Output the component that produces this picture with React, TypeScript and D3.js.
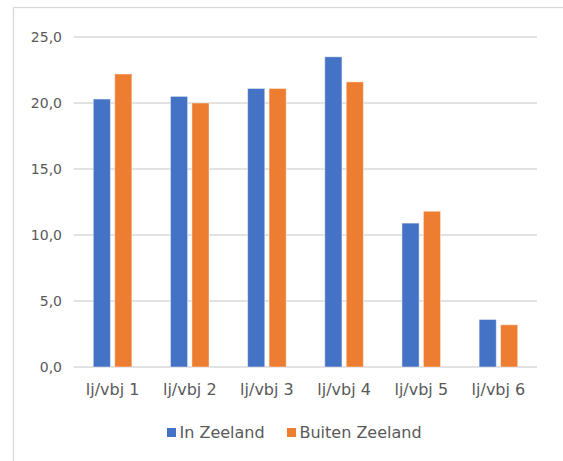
import React from 'react'
import * as d3 from 'd3'

const categories = ['lj/vbj 1', 'lj/vbj 2', 'lj/vbj 3', 'lj/vbj 4', 'lj/vbj 5', 'lj/vbj 6']
const seriesNames = ['In Zeeland', 'Buiten Zeeland']
const inZeeland = [20.3, 20.5, 21.1, 23.5, 10.9, 3.6]
const buitenZeeland = [22.2, 20.0, 21.1, 21.6, 11.8, 3.2]
const yTicks = [0, 5, 10, 15, 20, 25]
const colours = ['#4472C4', '#ED7D31']

const W = 563
const H = 461
const FONT = '"DejaVu Sans", Verdana, sans-serif'
const TEXT = '#595959'
const GRID = '#d9d9d9'

export default function App() {
  const x0 = d3.scaleBand<string>().domain(categories).range([74, 537]).paddingInner(0.5).paddingOuter(0.25)
  const x1 = d3.scaleBand<string>().domain(seriesNames).range([0, x0.bandwidth()]).paddingInner(0.2)
  const y = d3.scaleLinear().domain([0, 25]).range([367, 37])
  const fmt = (v: number) => d3.format('.1f')(v).replace('.', ',')

  const values = [inZeeland, buitenZeeland]

  // legend layout: square + label per series
  const legend = [
    { x: 167, label: seriesNames[0], colour: colours[0] },
    { x: 287, label: seriesNames[1], colour: colours[1] },
  ]

  return (
    <svg width={W} height={H} style={{ position: 'absolute', left: 0, top: 0, background: '#fff' }}>
      {/* chart frame, cropped on right and bottom */}
      <rect x={13.5} y={7.5} width={700} height={600} fill="#fff" stroke={GRID} strokeWidth={1.3} />

      {/* gridlines + y labels */}
      {yTicks.map(t => (
        <g key={t}>
          <line x1={74} x2={537} y1={y(t)} y2={y(t)} stroke={GRID} strokeWidth={1.4} />
          <text x={62} y={y(t)} dy="0.35em" textAnchor="end" fontFamily={FONT} fontSize={14} fill={TEXT}>
            {fmt(t)}
          </text>
        </g>
      ))}

      {/* bars */}
      {categories.map((c, i) => (
        <g key={c} transform={`translate(${x0(c)},0)`}>
          {seriesNames.map((s, j) => (
            <rect
              key={s}
              x={x1(s)}
              y={y(values[j][i])}
              width={x1.bandwidth()}
              height={y(0) - y(values[j][i])}
              fill={colours[j]}
              stroke="#fff"
              strokeOpacity={0.45}
              strokeWidth={1}
            />
          ))}
        </g>
      ))}

      {/* category labels */}
      {categories.map(c => (
        <text key={c} x={(x0(c) as number) + x0.bandwidth() / 2} y={395} textAnchor="middle"
          fontFamily={FONT} fontSize={16} fill={TEXT}>
          {c}
        </text>
      ))}

      {/* legend */}
      {legend.map(l => (
        <g key={l.label}>
          <rect x={l.x} y={428} width={9} height={9} fill={l.colour} />
          <text x={l.x + 12.5} y={438} fontFamily={FONT} fontSize={16} fill={TEXT}>{l.label}</text>
        </g>
      ))}
    </svg>
  )
}
